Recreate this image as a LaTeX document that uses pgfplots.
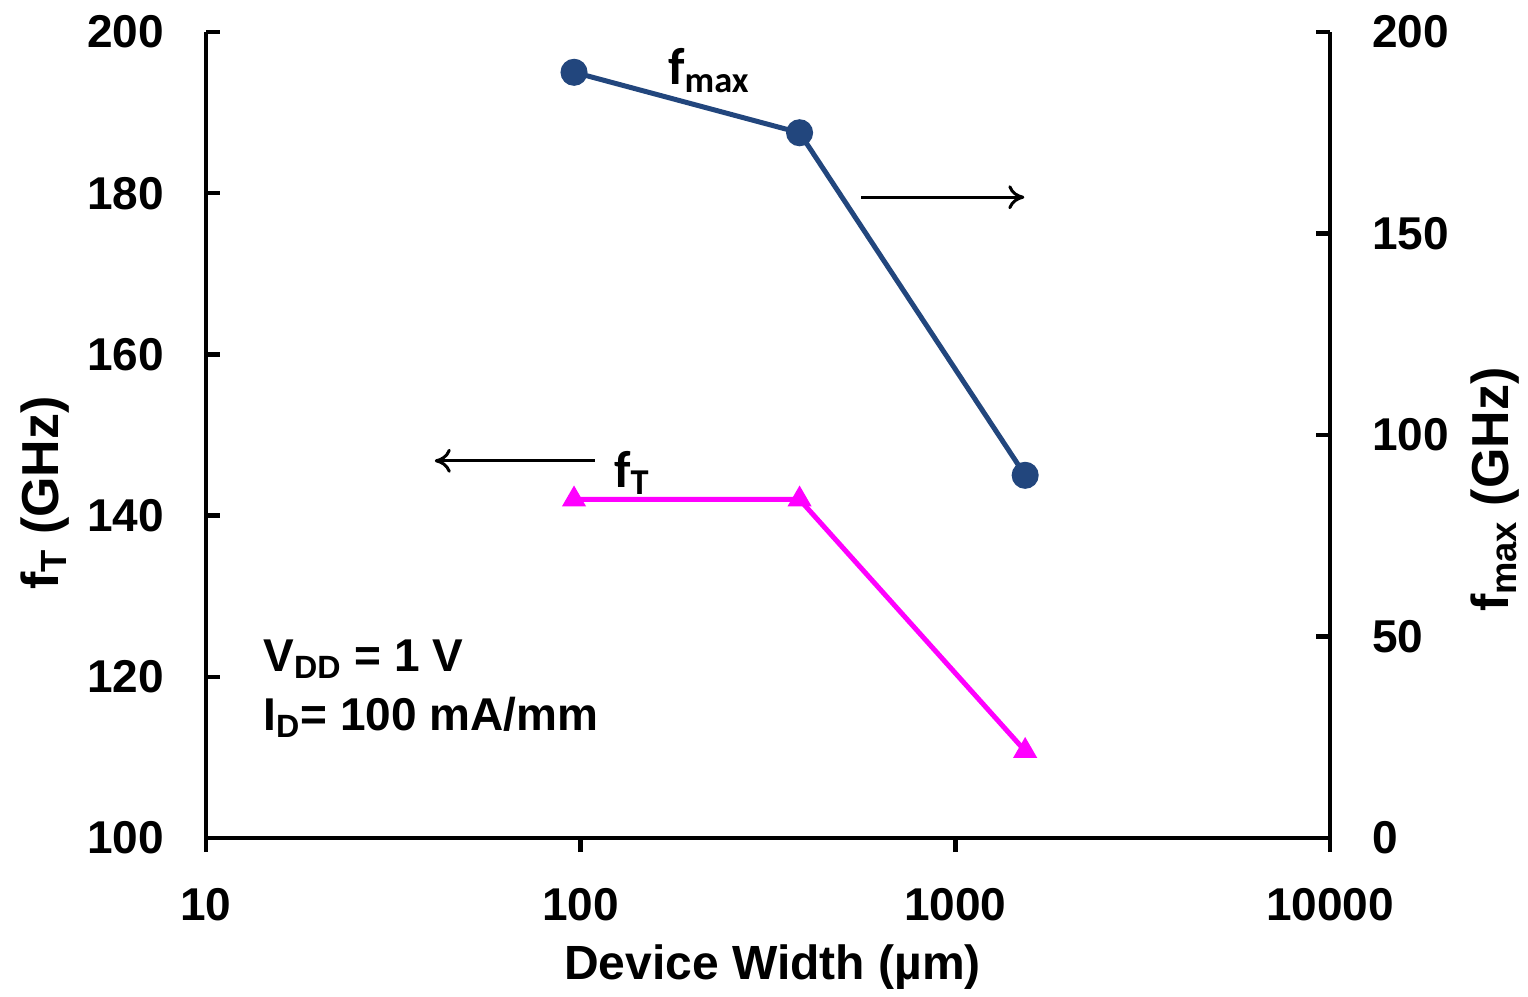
\documentclass[border=0pt]{standalone}
\usepackage{fontspec}
\setmainfont{Liberation Sans}
\newfontfamily\calib{Carlito}
\usepackage{pgfplots}
\pgfplotsset{compat=1.18}
\usetikzlibrary{arrows.meta}
\definecolor{fmaxblue}{RGB}{34,70,125}
\definecolor{ftmag}{RGB}{255,0,255}

\pgfplotstableread{
w    ft
96   142
384  142
1536 110.8
}\fttable
\pgfplotstableread{
w    fmax
96   190
384  175
1536 90
}\fmaxtable

\newcommand{\lbl}{\fontsize{23}{27}\selectfont\bfseries}
\newcommand{\ylbl}{\fontsize{26}{30}\selectfont\bfseries}

\begin{document}
\begin{tikzpicture}
\begin{axis}[
  scale only axis, width=562pt, height=403pt,
  xmode=log, xmin=10, xmax=10000,
  xtick={10,100,1000,10000},
  xticklabels={10,100,1000,10000},
  xminorticks=false,
  axis line style={line width=2.2pt},
  major tick style={line width=2.2pt, black},
  major tick length=7pt,
  tick label style={font=\lbl},
  clip=false,
  axis x line*=bottom, axis y line*=left,
  ymin=100, ymax=200, ytick={100,120,...,200},
  yticklabels={100,120,140,160,180,200},
  ytick align=inside, xtick align=outside,
  yticklabel style={xshift=-17.5pt},
  xticklabel style={yshift=-14.5pt},
  xlabel={Device Width (\textmu m)},
  xlabel style={font=\fontsize{24}{28}\selectfont\bfseries, at={(axis description cs:0.504,-0.16)}, anchor=center},
  ylabel={f\textsubscript{T} (GHz)},
  ylabel style={font=\ylbl, at={(axis description cs:-0.143,0.428)}, anchor=center},
]
\addplot[ftmag, line width=2.5pt, mark=triangle*, mark size=6pt,
  mark options={solid, line width=1pt}] table[x=w, y=ft] {\fttable};
% arrows pointing to the relevant axes
\draw[-{To[length=8pt,width=12pt]}, line width=1.5pt] (axis cs:109,146.8) -- (axis cs:40.8,146.8);
\draw[-{To[length=8pt,width=12pt]}, line width=1.5pt] (axis cs:561,179.5) -- (axis cs:1528,179.5);
\node[font=\calib\fontsize{26}{30}\selectfont\bfseries] at (axis cs:137,145.3) {f\textsubscript{T}};
\node[font=\calib\fontsize{26}{30}\selectfont\bfseries] at (axis cs:220,195.2) {f\textsubscript{max}};
\node[anchor=west, align=left, font=\lbl, inner sep=0pt] at (axis cs:14.2,118.5)
  {V\textsubscript{DD} = 1 V\\[2.5pt] I\textsubscript{D}= 100 mA/mm};
\end{axis}
\begin{axis}[
  scale only axis, width=562pt, height=403pt,
  xmode=log, xmin=10, xmax=10000,
  axis line style={line width=2.2pt},
  major tick style={line width=2.2pt, black},
  major tick length=7pt,
  tick label style={font=\lbl},
  clip=false,
  axis x line=none, axis y line*=right,
  ymin=0, ymax=200, ytick={0,50,...,200},
  yticklabels={0,50,100,150,200},
  ytick align=inside,
  yticklabel style={xshift=17.5pt},
  ylabel={f\textsubscript{max} (GHz)},
  ylabel style={font=\ylbl, at={(axis description cs:1.147,0.432)}, anchor=center},
]
\addplot[fmaxblue, line width=2.5pt, mark=*, mark size=5.5pt] table[x=w, y=fmax] {\fmaxtable};
\end{axis}
\useasboundingbox (-103pt,-74.5pt) rectangle (661pt,419pt);
\end{tikzpicture}
\end{document}
